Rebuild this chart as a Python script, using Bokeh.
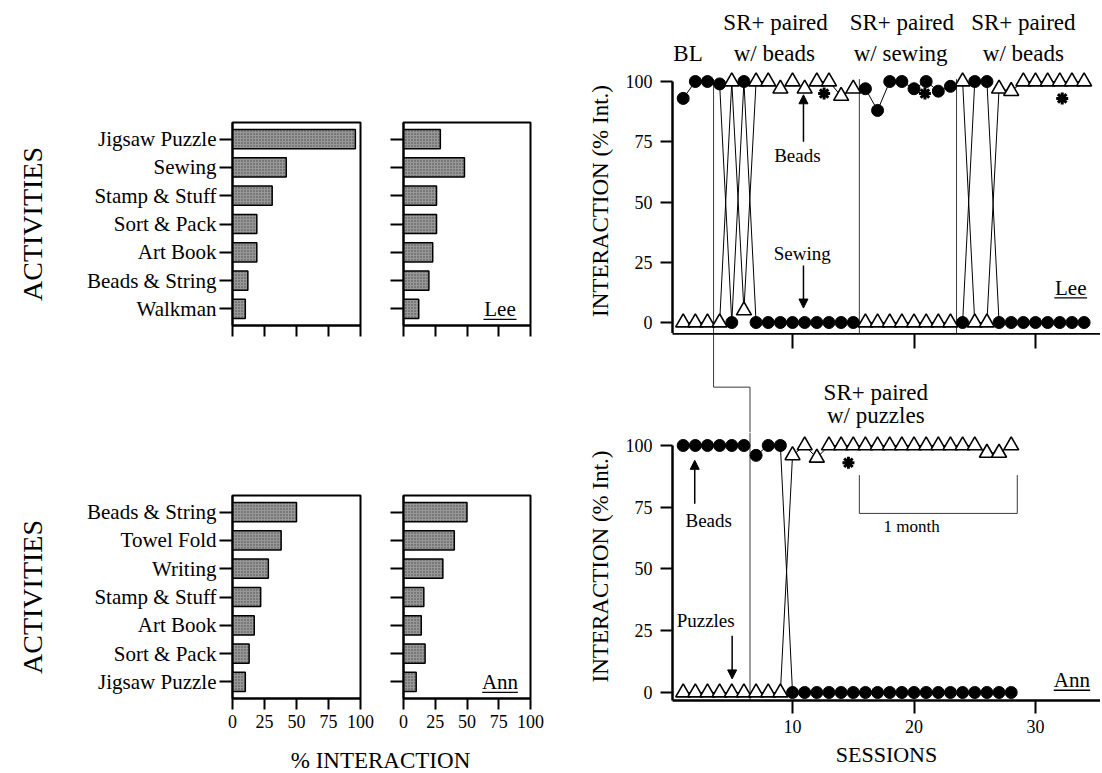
import math
from bokeh.plotting import figure
from bokeh.layouts import row, column
from bokeh.models import (FactorRange, Range1d, LinearAxis, FixedTicker, Arrow,
                          NormalHead, ColumnDataSource)
from bokeh.transform import dodge
from bokeh.core.properties import value
from bokeh.embed import file_html
from bokeh.resources import INLINE

FONT = "Liberation Serif"

# ---------------- data ----------------
lee_activities = ["Jigsaw Puzzle", "Sewing", "Stamp & Stuff", "Sort & Pack",
                  "Art Book", "Beads & String", "Walkman"]
lee_pct_a = [96, 42, 31, 19, 19, 12, 10]
lee_pct_b = [29, 48, 26, 26, 23, 20, 12]

ann_activities = ["Beads & String", "Towel Fold", "Writing", "Stamp & Stuff",
                  "Art Book", "Sort & Pack", "Jigsaw Puzzle"]
ann_pct_a = [50, 38, 28, 22, 17, 13, 10]
ann_pct_b = [50, 40, 31, 16, 14, 17, 10]

pct_ticks = [0, 25, 50, 75, 100]

lee_sessions = list(range(1, 35))
lee_sewing = [93, 100, 100,
              99, 0, 100, 0, 0, 0, 0, 0, 0, 0, 0, 0,
              97, 88, 100, 100, 97, 100, 96, 98,
              0, 100, 100, 0, 0, 0, 0, 0, 0, 0, 0]
lee_beads = [0, 0, 0,
             0, 100, 5, 100, 100, 97, 100, 97, 100, 100, 94, 97,
             0, 0, 0, 0, 0, 0, 0, 0,
             100, 0, 0, 97, 96, 100, 100, 100, 100, 100, 100]
lee_phase_changes = [3.5, 15.5, 23.5]
lee_titles = ["BL", "SR+ paired", "w/ beads", "SR+ paired", "w/ sewing",
              "SR+ paired", "w/ beads"]
lee_stars_x = [12.6, 20.9, 32.2]
lee_stars_y = [95, 95, 93]

ann_sessions = list(range(1, 29))
ann_beads = [100, 100, 100, 100, 100, 100, 96, 100, 100] + [0] * 19
ann_puzzles = [0] * 9 + [96, 100, 95] + [100] * 13 + [97, 97, 100]
ann_phase_change = 6.5
ann_titles = ["SR+ paired", "w/ puzzles"]
ann_stars_x = [14.6]
ann_stars_y = [93]

session_ticks = [10, 20, 30]
interaction_ticks = [0, 25, 50, 75, 100]


def broken(xs, ys, cuts):
    ox, oy = [], []
    for i, (x, y) in enumerate(zip(xs, ys)):
        if i > 0 and any(xs[i - 1] < c < x for c in cuts):
            ox.append(float("nan"))
            oy.append(float("nan"))
        ox.append(x)
        oy.append(y)
    return ox, oy


def style_axis(ax, lw=2):
    ax.axis_line_color = "black"
    ax.axis_line_width = lw
    ax.major_tick_line_color = "black"
    ax.major_tick_line_width = 2
    ax.minor_tick_line_color = None
    ax.major_tick_in = 0
    ax.major_label_text_font = FONT
    ax.major_label_text_font_size = "18px"
    ax.major_label_text_color = "black"
    ax.axis_label_text_font = FONT
    ax.axis_label_text_font_style = "normal"
    ax.axis_label_text_color = "black"


def hide_labels(ax, ticks):
    ax.major_label_overrides = {t: "" for t in ticks}
    ax.major_label_text_color = None
    ax.major_label_text_font_size = "1px"
    ax.major_label_standoff = 0


def bar_fig(cats, vals, w, h, mbl, mbr, mbt, mbb, show_y, show_x, ylabel=None):
    p = figure(width=w, height=h, x_range=Range1d(0, 100),
               y_range=FactorRange(*reversed(cats), range_padding=0.09,
                                   range_padding_units="absolute"),
               output_backend="svg", toolbar_location=None,
               min_border_left=mbl, min_border_right=mbr,
               min_border_top=mbt, min_border_bottom=mbb)
    p.hbar(y=cats, right=vals, left=0, height=0.68, fill_color="#989898",
           line_color="black", line_width=1.5, hatch_pattern="dot",
           hatch_color="#474747", hatch_scale=3, hatch_weight=1)
    p.xgrid.visible = False
    p.ygrid.visible = False
    p.outline_line_color = "black"
    p.outline_line_width = 2
    p.outline_line_alpha = 1
    xa = p.xaxis[0]
    style_axis(xa)
    xa.ticker = FixedTicker(ticks=pct_ticks)
    xa.major_tick_out = 11
    xa.major_label_standoff = 5
    if not show_x:
        hide_labels(xa, pct_ticks)
    ya = p.yaxis[0]
    style_axis(ya)
    ya.major_tick_out = 13
    ya.major_label_standoff = 3
    ya.major_label_text_font_size = "21px"
    if not show_y:
        hide_labels(ya, cats)
    if ylabel:
        ya.axis_label = ylabel
        ya.axis_label_text_font_size = "28px"
        ya.axis_label_standoff = 36
    return p


def tag(p, text, x, half, cat):
    src = ColumnDataSource(dict(x=[x], x0=[x - half], x1=[x + half], y=[cat], t=[text]))
    p.text(x="x", y="y", text="t", source=src,
           text_font=value(FONT), text_font_size="21px", text_align="center",
           text_baseline="middle", text_color="black")
    p.segment(x0="x0", x1="x1", y0=dodge("y", -0.37, range=p.y_range),
              y1=dodge("y", -0.37, range=p.y_range), source=src,
              line_color="black", line_width=1.3)


# ---------------- bar charts ----------------
lee_b1 = bar_fig(lee_activities, lee_pct_a, 380, 360, 232, 20, 122, 35,
                 True, False, "ACTIVITIES")
lee_b2 = bar_fig(lee_activities, lee_pct_b, 200, 360, 23, 50, 122, 35,
                 False, False)
tag(lee_b2, "Lee", 76, 13, lee_activities[-1])

ann_b1 = bar_fig(ann_activities, ann_pct_a, 380, 380, 232, 20, 135, 42,
                 True, True, "ACTIVITIES")
ann_b2 = bar_fig(ann_activities, ann_pct_b, 200, 380, 23, 50, 135, 42,
                 False, True)
tag(ann_b2, "Ann", 76, 14, ann_activities[-1])

strip = figure(width=580, height=32, x_range=Range1d(0, 580), y_range=Range1d(0, 32),
               min_border=0, x_axis_location=None, y_axis_location=None,
               output_backend="svg", toolbar_location=None, outline_line_color=None)
strip.grid.visible = False
strip.text(x=[380], y=[12], text=["% INTERACTION"], text_font=value(FONT),
           text_font_size="23px", text_align="center", text_baseline="middle",
           text_color="black")

# ---------------- line charts ----------------
session_range = Range1d(0.12, 35.35)


def panel(h, yr, mbb=0, xloc=None, yaxis=False):
    p = figure(width=520, height=h, x_range=session_range, y_range=yr,
               x_axis_location=xloc, y_axis_location="left" if yaxis else None,
               min_border_left=92, min_border_right=0, min_border_top=0,
               min_border_bottom=mbb, outline_line_color=None,
               output_backend="svg", toolbar_location=None)
    p.grid.visible = False
    if yaxis:
        ya = p.yaxis[0]
        style_axis(ya, 2.5)
        ya.ticker = FixedTicker(ticks=interaction_ticks)
        ya.bounds = (yr.start, 100)
        ya.major_tick_out = 12
        ya.major_label_standoff = 8
        ya.axis_label = "INTERACTION (% Int.)"
        ya.axis_label_text_font_size = "23px"
        ya.axis_label_standoff = 10
    return p


def plot_series(p, xs, circ, tri, cuts):
    cx, cy = broken(xs, circ, cuts)
    tx, ty = broken(xs, tri, cuts)
    p.line(cx, cy, line_color="black", line_width=1)
    p.line(tx, ty, line_color="black", line_width=1)
    p.scatter(xs, tri, marker="triangle", size=15, fill_color="white",
              line_color="black", line_width=1.6)
    p.scatter(xs, circ, marker="circle", size=12, fill_color="black",
              line_color="black")


def txt(p, xs, ys, texts, size):
    p.text(x=xs, y=ys, text=texts, text_font=value(FONT), text_font_size=size,
           text_align="center", text_baseline="middle", text_color="black")


def arrow(p, x, y0, y1):
    p.add_layout(Arrow(end=NormalHead(size=9, fill_color="black", line_color="black",
                                      line_width=1),
                       x_start=x, y_start=y0, x_end=x, y_end=y1,
                       line_color="black", line_width=1.5))


PHASE = dict(line_color="#3a3a3a", line_width=1)

# phase titles for Lee (strip above the Lee panel, same units as Lee)
lee_top = panel(68, Range1d(105.4, 133.6))
txt(lee_top, [1.4, 8.6, 8.5, 19.0, 18.9, 29.0, 29.0],
    [111.5, 124.6, 111.5, 124.6, 111.5, 124.6, 111.5], lee_titles, "23px")

# Lee panel
lee_yr = Range1d(-4.56, 105.4)
lee = panel(265, lee_yr, yaxis=True)
lee.segment(x0=lee_phase_changes, x1=lee_phase_changes,
            y0=[101] * 3, y1=[lee_yr.start] * 3, **PHASE)
plot_series(lee, lee_sessions, lee_sewing, lee_beads, lee_phase_changes)
lee.scatter(lee_stars_x, lee_stars_y, marker="asterisk", size=12,
            line_color="black", line_width=3)
txt(lee, [10.4], [69.3], ["Beads"], "19px")
arrow(lee, 10.9, 75, 94.5)
txt(lee, [10.8], [28.5], ["Sewing"], "19px")
arrow(lee, 10.9, 23.7, 6)
txt(lee, [32.9], [14.5], ["Lee"], "21px")
lee.segment(x0=[31.55], x1=[34.25], y0=[10.2], y1=[10.2], line_color="black",
            line_width=1.3)

# middle strip: Lee's session axis, staggered phase line, Ann's phase title
mid_yr = Range1d(105.26, 145.3)
mid = panel(99, mid_yr)
top = LinearAxis(ticker=FixedTicker(ticks=session_ticks))
style_axis(top, 2.5)
top.major_tick_out = 0
top.major_tick_in = 15
hide_labels(top, session_ticks)
mid.add_layout(top, "above")
step_y = 123.6
mid.line([lee_phase_changes[0], lee_phase_changes[0], ann_phase_change, ann_phase_change],
         [mid_yr.end, step_y, step_y, mid_yr.start], **PHASE)
txt(mid, [16.85, 16.85], [121.5, 112.1], ann_titles, "23px")

# Ann panel
ann_yr = Range1d(-3.24, 105.26)
ann = panel(340, ann_yr, mbb=72, xloc="below", yaxis=True)
xa = ann.xaxis[0]
style_axis(xa, 2.5)
xa.ticker = FixedTicker(ticks=session_ticks)
xa.major_tick_out = 13
xa.major_label_standoff = 6
xa.axis_label = "SESSIONS"
xa.axis_label_text_font_size = "22px"
xa.axis_label_standoff = 6
ann.segment(x0=[ann_phase_change], x1=[ann_phase_change], y0=[ann_yr.end],
            y1=[ann_yr.start], **PHASE)
plot_series(ann, ann_sessions, ann_beads, ann_puzzles, [ann_phase_change])
ann.scatter(ann_stars_x, ann_stars_y, marker="asterisk", size=12,
            line_color="black", line_width=3)
ann.line([15.5, 15.5, 28.5, 28.5], [88, 72.5, 72.5, 88], **PHASE)
txt(ann, [19.8], [67.3], ["1 month"], "17px")
txt(ann, [3.1], [69.6], ["Beads"], "19px")
arrow(ann, 1.95, 76.4, 94)
txt(ann, [2.85], [29.1], ["Puzzles"], "19px")
arrow(ann, 5.03, 23, 5.5)
txt(ann, [33.0], [4.9], ["Ann"], "21px")
ann.segment(x0=[31.5], x1=[34.5], y0=[0.9], y1=[0.9], line_color="black",
            line_width=1.3)

left = column(row(lee_b1, lee_b2), row(ann_b1, ann_b2), strip)
right = column(lee_top, lee, mid, ann)
page = row(left, right)

open("out.html", "w").write(file_html(page, INLINE, title="Activities and interaction"))
